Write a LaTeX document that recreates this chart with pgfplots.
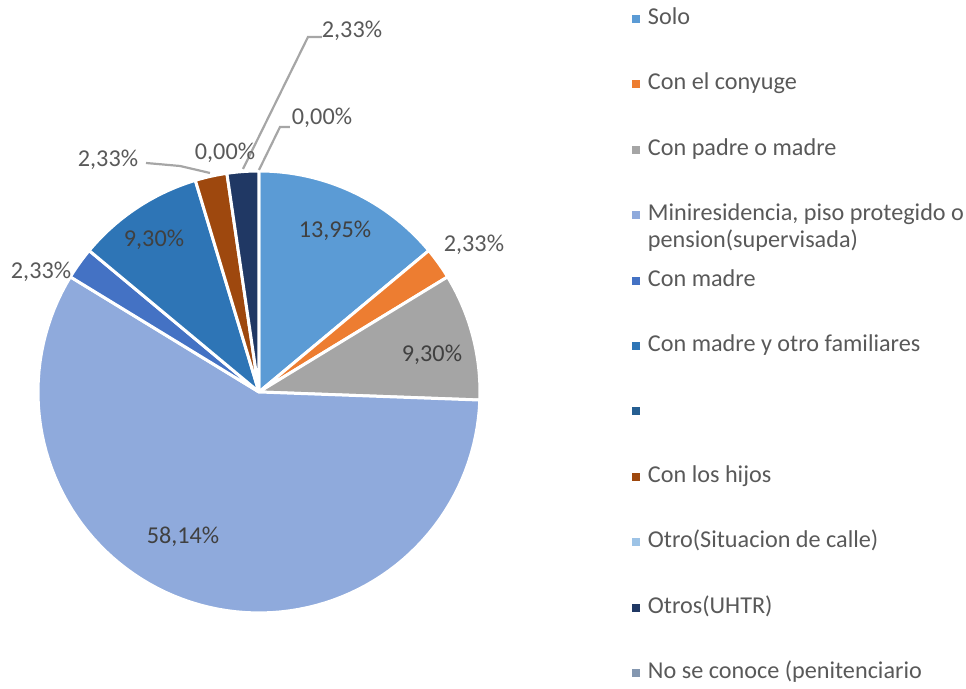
\documentclass[border=0pt]{standalone}
\usepackage{pgfplots}
\pgfplotsset{compat=1.18}
\usepackage{fontspec}
\setmainfont{Carlito}
\definecolor{cSolo}{HTML}{5B9BD5}
\definecolor{cCony}{HTML}{ED7D31}
\definecolor{cPadre}{HTML}{A5A5A5}
\definecolor{cMini}{HTML}{8FAADC}
\definecolor{cMadre}{HTML}{4472C4}
\definecolor{cMadreO}{HTML}{2E75B6}
\definecolor{cBlank}{HTML}{255E91}
\definecolor{cHijos}{HTML}{9E480E}
\definecolor{cOtro}{HTML}{9DC3E6}
\definecolor{cUHTR}{HTML}{203864}
\definecolor{cNo}{HTML}{8497B0}
\definecolor{txt}{HTML}{595959}
\definecolor{txtin}{HTML}{404040}
\definecolor{lead}{HTML}{A6A6A6}
% \slice{cumulative start %}{value %}{colour}
\newcommand\slice[3]{%
  \addplot[forget plot, fill=#3, draw=white, line width=1.5pt, line join=round,
    domain={90-3.6*(#1+#2)}:{90-3.6*(#1)}, samples=90]
    ({259+221*cos(x)},{392-221*sin(x)}) -- (axis cs:259,392) -- cycle;}
\newcommand\fnt{\fontsize{12.1}{14.5}\selectfont}
\tikzset{lab/.style={font=\fnt, text=txt}, labin/.style={font=\fnt, text=txtin}}
\begin{document}
\begin{tikzpicture}
\begin{axis}[
  x=0.5pt, y=0.5pt, xmin=0, xmax=966, ymin=0, ymax=682, y dir=reverse,
  hide axis, clip=false,
  legend cell align=left,
  legend image code/.code={\fill[#1, draw=none] (0pt,-2pt) rectangle (4pt,2pt);},
  legend style={at={(axis cs:632,3.5)}, anchor=north west, draw=none, fill=none,
    inner sep=0pt, outer sep=0pt, row sep=17.2pt, column sep=3pt,
    font=\fnt, text=txt,
    nodes={text height=8.5pt, text depth=3pt, inner xsep=1pt, inner ysep=2pt}},
]
\addplot[draw=none, forget plot] coordinates {(0,0) (966,682)};
\slice{0}{13.95}{cSolo}
\slice{13.95}{2.33}{cCony}
\slice{16.28}{9.30}{cPadre}
\slice{25.58}{58.14}{cMini}
\slice{83.72}{2.33}{cMadre}
\slice{86.05}{9.30}{cMadreO}
\slice{95.35}{2.33}{cHijos}
\slice{97.68}{2.32}{cUHTR}
% leader lines
\addplot[forget plot, lead, line width=1.1pt] coordinates {(322,37) (308,37) (243,169)};
\addplot[forget plot, lead, line width=1.1pt] coordinates {(290,127) (280,127) (259,170)};
\addplot[forget plot, lead, line width=1.1pt] coordinates {(146,163) (180,166) (210,173)};
% legend
\addlegendimage{fill=cSolo}\addlegendentry{Solo}
\addlegendimage{fill=cCony}\addlegendentry{Con el conyuge}
\addlegendimage{fill=cPadre}\addlegendentry{Con padre o madre}
\addlegendimage{fill=cMini}\addlegendentry{\begin{tabular}[t]{@{}l@{}}Miniresidencia, piso protegido o\\[-1pt]pension(supervisada)\end{tabular}}
\addlegendimage{fill=cMadre}\addlegendentry{Con madre}
\addlegendimage{fill=cMadreO}\addlegendentry{Con madre y otro familiares}
\addlegendimage{fill=cBlank}\addlegendentry{}
\addlegendimage{fill=cHijos}\addlegendentry{Con los hijos}
\addlegendimage{fill=cOtro}\addlegendentry{Otro(Situacion de calle)}
\addlegendimage{fill=cUHTR}\addlegendentry{Otros(UHTR)}
\addlegendimage{fill=cNo}\addlegendentry{No se conoce (penitenciario}
% data labels
\node[labin] at (axis cs:335,231) {13,95\%};
\node[lab] at (axis cs:474,245) {2,33\%};
\node[labin] at (axis cs:432,355) {9,30\%};
\node[labin] at (axis cs:183,537) {58,14\%};
\node[lab] at (axis cs:41,272) {2,33\%};
\node[labin] at (axis cs:154,240) {9,30\%};
\node[lab] at (axis cs:108,160) {2,33\%};
\node[lab] at (axis cs:225,153) {0,00\%};
\node[lab] at (axis cs:352,31) {2,33\%};
\node[lab] at (axis cs:322,118) {0,00\%};
\end{axis}
\end{tikzpicture}
\end{document}
